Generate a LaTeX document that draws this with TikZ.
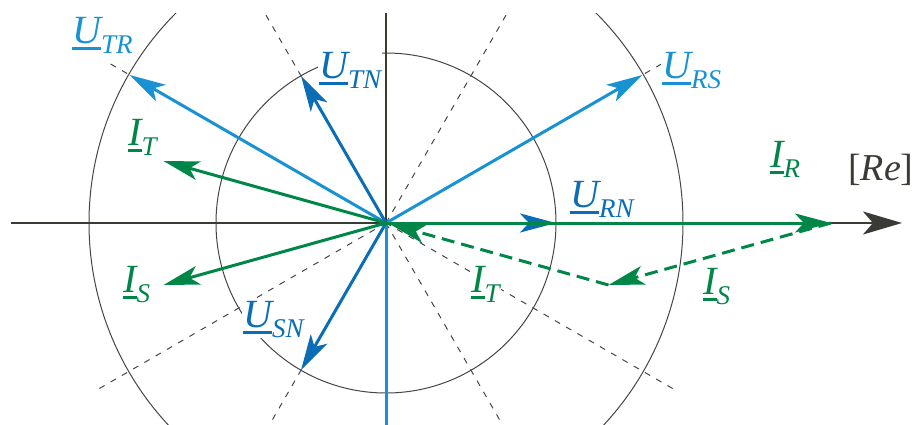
\documentclass[tikz,border=0pt]{standalone}
\usepackage{fontspec}
\setmainfont{Liberation Serif}
\usetikzlibrary{arrows.meta,calc}
\definecolor{lblue}{HTML}{1892D2}
\definecolor{dblue}{HTML}{0A6DB5}
\definecolor{grn}{HTML}{008748}
\definecolor{axc}{HTML}{3B3B36}
\definecolor{circc}{HTML}{454545}
\newcommand\ulbar[1]{\setbox0=\hbox{#1}\rlap{\rule[-0.175em]{\wd0}{0.075em}}\box0}
\newcommand\phlab[2]{\ulbar{#1}\raisebox{-0.25em}{\fontsize{27}{27}\selectfont #2}}
\begin{document}
\begin{tikzpicture}[x=1pt,y=1pt,
  vec/.style={line width=3pt,-{Stealth[length=36pt,width=19pt,inset=9pt]}},
  axis/.style={axc,line width=2.4pt},
  circ/.style={circc,line width=1pt},
  dline/.style={circc,line width=1pt,dash pattern=on 6pt off 7pt},
  gdash/.style={dash pattern=on 13pt off 7pt},
  lab/.style={font=\fontsize{40}{40}\selectfont\itshape,fill=white,inner sep=1pt,anchor=base west}]
\useasboundingbox (-386,-201) rectangle (529,223);
\coordinate (O) at (0,0);
\coordinate (UTR) at (150:296);
\coordinate (URS) at (30:296);
\coordinate (UTN) at (120:170);
\coordinate (URN) at (0:170);
\coordinate (USN) at (240:170);
\coordinate (UST) at (0,-205);
\coordinate (IR) at (445,0);
\coordinate (IT) at (-222.5,62);
\coordinate (IS) at (-222.5,-62);
\coordinate (ISd) at (222.5,-62);
\coordinate (AxL) at (-375,0);
\coordinate (AxR) at (516,0);
\coordinate (AxT) at (0,210);
\begin{scope}
  \clip (-386,-201) rectangle (529,210);
  \draw[circ] (O) circle[radius=170];
  \draw[circ] (O) circle[radius=297];
  \foreach \a/\r in {30/318,150/318,60/340,120/340,210/336,330/336,240/340,300/340}
    \draw[dline] (O) -- (\a:\r);
\end{scope}
% labels
\node[lab,text=lblue] (lUTR) at (-315,180) {\phlab{U}{TR}};
\node[lab,text=dblue] (lUTN) at (-68,145) {\phlab{U}{TN}};
\node[lab,text=lblue] (lURS) at (275,145) {\phlab{U}{RS}};
\node[lab,text=grn] (lIT1) at (-259,78) {\phlab{I}{T}};
\node[lab,text=grn] (lIR) at (383,56) {\phlab{I}{R}};
\node[lab,text=axc,font=\fontsize{38}{38}\selectfont] (lRe) at (461,43) {[\textit{Re}]};
\node[lab,text=dblue] (lURN) at (183,16) {\phlab{U}{RN}};
\node[lab,text=grn] (lIS1) at (-264,-69) {\phlab{I}{S}};
\node[lab,text=dblue] (lUSN) at (-144,-104) {\phlab{U}{SN}};
\node[lab,text=grn] (lIT2) at (84,-69) {\phlab{I}{T}};
\node[lab,text=grn] (lIS2) at (316,-71) {\phlab{I}{S}};
% axes
\draw[axis,-{Stealth[length=39pt,width=23pt,inset=10pt]}] (AxL) -- (AxR);
\draw[axis] (O) -- (AxT);
% voltage vectors
\draw[lblue,line width=3pt] (O) -- (UST);
\draw[vec,lblue] (O) -- (UTR);
\draw[vec,lblue] (O) -- (URS);
\draw[vec,dblue] (O) -- (UTN);
\draw[vec,dblue] (O) -- (URN);
\draw[vec,dblue] (O) -- (USN);
% currents
\draw[vec,grn] (O) -- (IR);
\draw[vec,grn] (O) -- (IT);
\draw[vec,grn] (O) -- (IS);
\draw[vec,grn,gdash] (IR) -- (ISd);
\draw[vec,grn,gdash,shorten >=4pt] (ISd) -- (O);
\end{tikzpicture}
\end{document}
